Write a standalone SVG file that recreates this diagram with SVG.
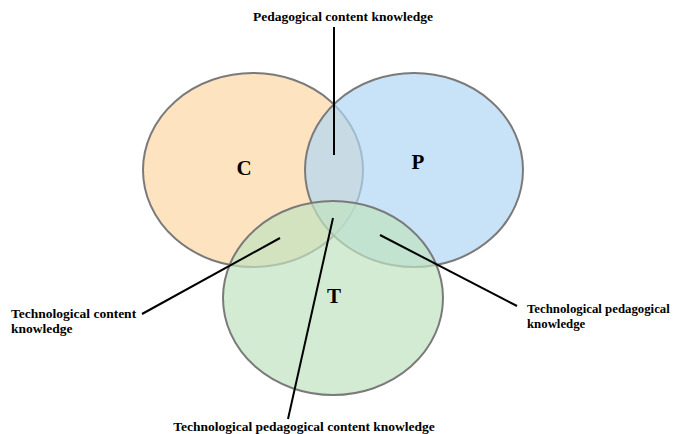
<svg xmlns="http://www.w3.org/2000/svg" width="674" height="434" viewBox="0 0 674 434">
<style>
.set{stroke:#7a7a7a;stroke-width:2}
.big{font-family:"Liberation Serif",serif;font-weight:bold;font-size:21px;fill:#000}
.lbl{font-family:"Liberation Serif",serif;font-weight:bold;font-size:13.5px;fill:#000}
.sm{font-size:12.8px}
.ln{stroke:#000;stroke-width:2;fill:none}
</style>
<rect width="674" height="434" fill="#fff"/>
<g id="C"><ellipse class="set" cx="253" cy="170" rx="110" ry="97" fill="#fde3c0"/><text class="big" x="244" y="175" text-anchor="middle">C</text></g>
<g id="P"><ellipse class="set" cx="414" cy="170" rx="109" ry="97" fill="#b0d7f5" fill-opacity="0.7"/></g>
<g id="T"><ellipse class="set" cx="333" cy="298" rx="110" ry="97" fill="#c0e2c0" fill-opacity="0.7"/></g>
<g id="labels-inner"><text class="big" x="418" y="169" text-anchor="middle">P</text><text class="big" x="334" y="303" text-anchor="middle">T</text></g>
<g id="connectors">
<line class="ln" x1="334" y1="27" x2="334" y2="155"/>
<line class="ln" x1="142" y1="314" x2="280" y2="238"/>
<line class="ln" x1="380" y1="235" x2="517" y2="306"/>
<line class="ln" x1="333" y1="218" x2="288" y2="419"/>
</g>
<g id="PCK"><text class="lbl" x="343" y="21" text-anchor="middle">Pedagogical content knowledge</text></g>
<g id="TCK"><text class="lbl" x="11" y="318">Technological content</text><text class="lbl" x="11" y="333">knowledge</text></g>
<g id="TPK"><text class="lbl sm" x="527" y="313">Technological pedagogical</text><text class="lbl sm" x="527" y="328">knowledge</text></g>
<g id="TPCK"><text class="lbl" x="304" y="431" text-anchor="middle">Technological pedagogical content knowledge</text></g>
</svg>
